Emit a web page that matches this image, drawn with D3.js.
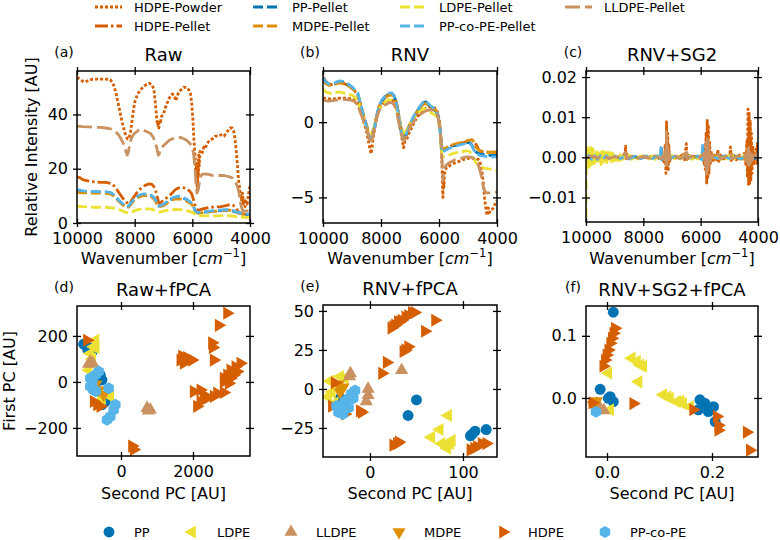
<!DOCTYPE html>
<html><head><meta charset="utf-8">
<script src="https://cdn.jsdelivr.net/npm/d3@7"></script>
<style>body{margin:0;background:#fff;} text{font-family:"DejaVu Sans",sans-serif;}</style>
</head><body><svg id="c" width="780" height="540" xmlns="http://www.w3.org/2000/svg"></svg>
<script>
// ---------------- DATA ----------------
const rawHdpePowder = [[10000,53.7],[9900,53],[9800,52.2],[9700,52],[9600,52.6],[9450,53],[9300,53],[9150,53],[9000,53],[8850,52.8],[8750,51.5],[8650,48],[8550,43],[8450,38],[8350,33.5],[8250,31],[8200,31],[8150,33],[8100,37],[8050,41],[8000,44.5],[7900,47.5],[7800,49],[7700,50.2],[7600,51],[7500,51.5],[7400,51],[7330,49],[7280,44],[7230,38],[7200,36],[7180,37.5],[7160,35],[7140,38],[7110,36.5],[7080,39],[7050,39.5],[7000,40],[6950,42],[6900,43.5],[6800,46],[6700,47.5],[6620,47],[6570,45],[6530,46.5],[6480,48],[6400,49],[6300,50],[6200,50],[6120,49],[6060,47.5],[6020,44],[5980,38],[5940,30],[5900,24],[5880,18],[5860,22],[5850,14],[5840,20],[5830,12],[5820,19],[5810,15],[5800,22],[5790,17],[5780,25],[5760,21],[5740,26],[5700,27],[5650,26],[5600,28],[5550,27.5],[5500,29],[5400,30.5],[5300,31],[5200,32],[5100,32],[5000,32.5],[4900,32],[4800,33.5],[4700,35],[4620,35],[4570,34],[4520,31],[4480,27],[4440,22],[4400,16],[4360,13],[4330,10],[4300,8.5],[4260,11],[4230,7],[4200,9],[4170,6],[4140,8],[4100,7],[4060,10],[4030,12],[4000,13.5]];
const rawHdpePellet = [[10000,17],[9900,16.7],[9800,16],[9700,15.7],[9500,15.3],[9200,15],[9000,15],[8800,14.5],[8700,13.5],[8600,12],[8500,10.5],[8400,9],[8300,7.8],[8220,7],[8150,7.5],[8100,8.5],[8000,10],[7900,11.5],[7800,12.6],[7650,13.8],[7500,14.4],[7400,14.2],[7300,13],[7250,11],[7200,9],[7160,7.2],[7100,7.5],[7000,8.3],[6900,9.2],[6800,10],[6700,11],[6600,12.2],[6500,12.8],[6400,13.2],[6300,13],[6200,12.6],[6100,11.8],[6020,10.7],[5960,8.5],[5900,6.4],[5850,5.2],[5800,4.6],[5700,5.0],[5600,5.3],[5400,5.8],[5200,5.9],[5000,6],[4800,6.5],[4700,6.8],[4600,6.6],[4500,5.8],[4450,4.8],[4400,4.2],[4300,3.5],[4200,3.3],[4000,3.3]];
const rawPp = [[10000,12],[9900,11.8],[9800,11.6],[9600,11.6],[9400,11.5],[9200,11.4],[9000,11.4],[8850,11.2],[8750,10.5],[8650,9.5],[8550,8.3],[8450,7.3],[8350,6.3],[8280,5.8],[8220,6],[8150,6.8],[8050,8.3],[7950,9.3],[7850,10],[7750,10.4],[7650,10.5],[7550,10.5],[7450,10.2],[7350,9.5],[7280,8.5],[7220,7],[7170,6.2],[7100,6.3],[7000,6.6],[6900,7.4],[6800,8.3],[6700,9],[6600,9.4],[6500,9.7],[6400,9.6],[6300,9.1],[6200,8.6],[6100,7.8],[6000,7],[5950,5.8],[5900,4.5],[5850,3.9],[5800,3.7],[5700,3.8],[5600,4],[5400,4.2],[5200,4.4],[5000,4.6],[4800,4.7],[4700,4.6],[4600,4.4],[4500,4.1],[4400,3.7],[4300,3.4],[4200,3.2],[4000,3.1]];
const rawMdpe = [[10000,11.4],[9900,11.2],[9800,11.1],[9600,11.1],[9400,11.0],[9200,11.0],[9000,10.9],[8850,10.7],[8750,10.1],[8650,9.1],[8550,8.0],[8450,7.0],[8350,6.1],[8280,5.6],[8220,5.8],[8150,6.6],[8050,8.0],[7950,9.0],[7850,9.6],[7750,10.0],[7650,10.1],[7550,10.1],[7450,9.8],[7350,9.1],[7280,8.1],[7220,6.8],[7170,6.0],[7100,6.1],[7000,6.4],[6900,7.1],[6800,7.9],[6700,8.5],[6600,8.8],[6500,8.9],[6400,8.8],[6300,8.5],[6200,8.1],[6100,7.4],[6000,6.7],[5950,5.5],[5900,4.3],[5850,3.8],[5800,3.6],[5700,3.7],[5600,3.9],[5400,4.1],[5200,4.3],[5000,4.5],[4800,4.7],[4700,4.7],[4600,4.5],[4500,4.1],[4400,3.7],[4300,3.4],[4200,3.2],[4000,3.1]];
const rawLdpe = [[10000,6.2],[9800,6],[9600,5.9],[9400,5.8],[9200,5.8],[9000,5.8],[8800,5.6],[8600,5.2],[8500,4.8],[8400,4.3],[8300,3.9],[8220,3.6],[8150,3.8],[8050,4.3],[7900,4.9],[7750,5.2],[7600,5.2],[7450,5.1],[7350,4.9],[7250,4.4],[7180,4],[7100,4.1],[7000,4.4],[6850,4.7],[6700,4.9],[6550,5],[6400,4.9],[6250,4.7],[6100,4.3],[6000,3.9],[5900,3.2],[5800,2.7],[5600,2.6],[5400,2.6],[5200,2.6],[5000,2.7],[4800,2.7],[4600,2.5],[4400,2.2],[4200,2.1],[4000,2.1]];
const rawPpcope = [[10000,12.3],[9900,12.1],[9800,11.8],[9600,11.7],[9400,11.6],[9200,11.5],[9000,11.5],[8850,11.3],[8750,10.6],[8650,9.6],[8550,8.4],[8450,7.4],[8350,6.5],[8280,6.0],[8220,6.2],[8150,7.0],[8050,8.5],[7950,9.5],[7850,10.2],[7750,10.6],[7650,10.7],[7550,10.6],[7450,10.3],[7350,9.6],[7280,8.6],[7220,7.1],[7170,6.4],[7100,6.5],[7000,6.9],[6900,7.7],[6800,8.6],[6700,9.2],[6600,9.6],[6500,9.9],[6400,9.8],[6300,9.3],[6200,8.8],[6100,8.0],[6000,7.1],[5950,5.9],[5900,4.6],[5850,4.0],[5800,3.9],[5700,4.0],[5600,4.2],[5400,4.4],[5200,4.6],[5000,4.8],[4800,4.9],[4700,4.8],[4600,4.6],[4500,4.3],[4400,3.9],[4300,3.6],[4200,3.4],[4000,3.3]];
const rawLldpe = [[10000,35.7],[9800,35.5],[9600,35.4],[9400,35.3],[9200,35.2],[9000,35],[8800,34.6],[8700,34],[8600,33],[8500,31.5],[8400,29.5],[8320,27],[8260,25],[8220,26],[8180,28.5],[8120,31],[8050,32.5],[7950,33.5],[7850,34.3],[7750,34.5],[7650,34],[7550,33.5],[7450,33],[7350,31.5],[7280,29.5],[7220,27],[7180,25],[7150,25.5],[7100,27.5],[7000,28.5],[6900,29.5],[6800,30.5],[6700,31],[6600,31.2],[6500,31.5],[6400,31.5],[6300,31],[6200,30.5],[6100,29.5],[6000,28],[5950,25],[5900,19],[5870,14],[5840,11],[5800,12],[5770,14],[5740,16],[5700,17.5],[5650,18],[5500,18],[5400,17.8],[5300,17.5],[5100,17.5],[4900,17.5],[4700,17],[4600,16.5],[4500,15],[4420,13],[4380,11],[4340,8],[4300,6],[4250,4.5],[4200,4.5],[4100,4.5],[4000,4.5]];

const rnvHdpePowder = [[10000,1.6],[9800,1.55],[9600,1.55],[9400,1.6],[9200,1.6],[9000,1.55],[8900,1.45],[8800,1.2],[8720,0.8],[8650,0.4],[8580,-0.1],[8500,-0.6],[8440,-1.2],[8380,-1.8],[8340,-2.1],[8300,-1.5],[8250,-0.8],[8180,0.0],[8100,0.7],[8000,1.1],[7900,1.3],[7800,1.35],[7700,1.45],[7600,1.45],[7520,1.3],[7450,0.8],[7380,0.0],[7300,-0.8],[7250,-1.4],[7220,-1.7],[7180,-1.3],[7120,-1.2],[7050,-0.8],[6950,-0.4],[6850,0.0],[6750,0.35],[6650,0.6],[6550,0.8],[6450,0.95],[6350,1.0],[6250,1.0],[6150,0.95],[6060,0.7],[6000,0.2],[5960,-0.6],[5930,-1.5],[5900,-2.6],[5880,-4.0],[5865,-5.0],[5850,-3.8],[5830,-4.3],[5810,-3.4],[5780,-3.2],[5740,-3.0],[5700,-3.0],[5600,-2.85],[5500,-2.75],[5400,-2.65],[5300,-2.6],[5200,-2.5],[5100,-2.45],[5000,-2.4],[4900,-2.4],[4800,-2.4],[4700,-2.4],[4600,-2.55],[4540,-3.0],[4480,-3.9],[4430,-5.0],[4380,-5.8],[4340,-6.2],[4300,-5.7],[4260,-6.0],[4200,-5.8],[4140,-5.75],[4080,-5.5],[4000,-5.2]];
const rnvHdpePellet = [[10000,3.0],[9900,2.7],[9800,2.55],[9700,2.5],[9600,2.55],[9500,2.6],[9400,2.65],[9300,2.6],[9200,2.5],[9100,2.4],[9000,2.25],[8900,2.05],[8800,1.8],[8720,1.2],[8650,0.7],[8580,0.2],[8500,-0.3],[8440,-0.9],[8390,-1.2],[8340,-1.1],[8280,-0.8],[8220,-0.3],[8150,0.4],[8070,0.95],[7980,1.35],[7880,1.6],[7780,1.75],[7680,1.85],[7600,1.85],[7520,1.65],[7440,1.1],[7370,0.3],[7300,-0.5],[7240,-1.0],[7200,-1.1],[7120,-0.85],[7050,-0.45],[6950,0.0],[6850,0.4],[6750,0.7],[6650,0.95],[6570,1.2],[6500,1.3],[6420,1.25],[6350,1.1],[6250,0.95],[6150,0.85],[6050,0.6],[5980,-0.1],[5930,-1.1],[5900,-1.8],[5850,-1.8],[5750,-1.75],[5650,-1.65],[5550,-1.55],[5450,-1.5],[5350,-1.45],[5250,-1.4],[5150,-1.35],[5050,-1.3],[4950,-1.25],[4870,-1.2],[4800,-1.25],[4720,-1.5],[4640,-1.8],[4550,-1.95],[4450,-2.0],[4300,-2.0],[4150,-2.0],[4000,-2.0]];
const rnvPp = [[10000,2.9],[9900,2.6],[9800,2.5],[9700,2.5],[9600,2.55],[9500,2.65],[9400,2.7],[9300,2.65],[9200,2.55],[9100,2.45],[9000,2.3],[8900,2.1],[8800,1.9],[8720,1.3],[8650,0.8],[8580,0.3],[8500,-0.2],[8440,-0.7],[8390,-1.0],[8340,-0.95],[8280,-0.7],[8220,-0.3],[8150,0.4],[8070,1.0],[7980,1.4],[7880,1.65],[7780,1.8],[7680,1.9],[7620,1.9],[7540,1.7],[7460,1.2],[7390,0.4],[7310,-0.5],[7250,-0.95],[7210,-1.0],[7140,-0.8],[7060,-0.4],[6960,0.0],[6860,0.4],[6760,0.7],[6660,1.0],[6560,1.25],[6450,1.35],[6380,1.2],[6300,1.05],[6200,0.9],[6120,0.75],[6040,0.5],[5980,-0.2],[5930,-1.2],[5900,-1.9],[5850,-1.85],[5750,-1.8],[5650,-1.7],[5550,-1.6],[5450,-1.55],[5350,-1.5],[5250,-1.45],[5150,-1.4],[5050,-1.35],[4950,-1.35],[4870,-1.5],[4800,-1.8],[4720,-2.0],[4600,-2.1],[4450,-2.15],[4300,-2.2],[4150,-2.2],[4000,-2.2]];
const rnvMdpe = [[10000,2.8],[9900,2.55],[9800,2.45],[9700,2.45],[9600,2.5],[9500,2.6],[9400,2.6],[9300,2.55],[9200,2.5],[9100,2.4],[9000,2.25],[8900,2.05],[8800,1.85],[8720,1.3],[8650,0.8],[8580,0.3],[8500,-0.15],[8440,-0.6],[8390,-0.9],[8340,-0.85],[8280,-0.6],[8220,-0.2],[8150,0.45],[8070,1.0],[7980,1.4],[7880,1.6],[7780,1.75],[7680,1.8],[7620,1.8],[7540,1.6],[7460,1.15],[7390,0.4],[7310,-0.45],[7250,-0.85],[7210,-0.9],[7140,-0.7],[7060,-0.35],[6960,0.05],[6860,0.4],[6760,0.7],[6660,0.95],[6560,1.15],[6450,1.25],[6380,1.15],[6300,1.0],[6200,0.9],[6120,0.8],[6040,0.55],[5980,-0.1],[5930,-1.1],[5900,-1.8],[5850,-1.75],[5750,-1.7],[5650,-1.6],[5550,-1.5],[5450,-1.45],[5350,-1.4],[5250,-1.35],[5150,-1.3],[5050,-1.25],[4950,-1.2],[4870,-1.15],[4800,-1.3],[4720,-1.7],[4600,-1.9],[4450,-1.95],[4300,-2.0],[4150,-2.0],[4000,-2.0]];
const rnvLdpe = [[10000,2.2],[9900,2.0],[9800,1.95],[9700,1.9],[9600,1.95],[9500,2.0],[9400,2.0],[9300,1.95],[9200,1.9],[9100,1.85],[9000,1.8],[8900,1.65],[8800,1.4],[8720,0.95],[8650,0.5],[8570,0.05],[8500,-0.4],[8430,-0.75],[8380,-0.9],[8330,-0.85],[8280,-0.6],[8220,-0.2],[8150,0.35],[8070,0.8],[7980,1.1],[7880,1.3],[7780,1.45],[7680,1.5],[7600,1.45],[7520,1.25],[7440,0.8],[7370,0.15],[7300,-0.4],[7240,-0.65],[7190,-0.7],[7120,-0.55],[7050,-0.25],[6950,0.05],[6850,0.35],[6750,0.55],[6650,0.75],[6570,0.85],[6500,0.9],[6420,0.8],[6350,0.7],[6250,0.6],[6150,0.5],[6050,0.3],[5980,-0.4],[5930,-1.4],[5900,-2.3],[5850,-2.3],[5750,-2.25],[5650,-2.2],[5550,-2.1],[5450,-2.05],[5350,-2.0],[5250,-1.95],[5150,-1.95],[5050,-1.9],[4950,-1.95],[4870,-2.1],[4800,-2.4],[4720,-2.7],[4600,-2.9],[4450,-3.05],[4300,-3.1],[4150,-3.15],[4000,-3.2]];
const rnvPpcope = [[10000,2.95],[9900,2.65],[9800,2.55],[9700,2.55],[9600,2.6],[9500,2.7],[9400,2.75],[9300,2.7],[9200,2.6],[9100,2.5],[9000,2.35],[8900,2.15],[8800,1.95],[8720,1.3],[8650,0.75],[8580,0.2],[8500,-0.3],[8440,-0.8],[8390,-1.1],[8340,-1.0],[8280,-0.75],[8220,-0.3],[8150,0.4],[8070,1.05],[7980,1.45],[7880,1.7],[7780,1.85],[7680,1.95],[7620,1.95],[7540,1.75],[7460,1.2],[7390,0.35],[7310,-0.6],[7250,-1.05],[7210,-1.1],[7140,-0.85],[7060,-0.45],[6960,0.0],[6860,0.45],[6760,0.75],[6660,1.05],[6560,1.3],[6450,1.4],[6380,1.25],[6300,1.1],[6200,0.95],[6120,0.8],[6040,0.5],[5980,-0.25],[5930,-1.3],[5900,-2.0],[5850,-1.95],[5750,-1.85],[5650,-1.75],[5550,-1.65],[5450,-1.6],[5350,-1.55],[5250,-1.5],[5150,-1.45],[5050,-1.4],[4950,-1.4],[4870,-1.55],[4800,-1.85],[4720,-2.1],[4600,-2.2],[4450,-2.25],[4300,-2.3],[4150,-2.3],[4000,-2.3]];
const rnvLldpe = [[10000,1.45],[9800,1.4],[9600,1.45],[9400,1.5],[9200,1.5],[9000,1.45],[8900,1.35],[8800,1.1],[8720,0.7],[8650,0.35],[8580,0.0],[8500,-0.4],[8430,-0.9],[8370,-1.4],[8330,-1.45],[8290,-1.0],[8230,-0.4],[8160,0.2],[8080,0.7],[8000,0.95],[7900,1.1],[7800,1.2],[7700,1.3],[7620,1.3],[7530,1.1],[7450,0.6],[7380,-0.1],[7300,-0.8],[7240,-1.2],[7200,-1.25],[7140,-1.0],[7060,-0.6],[6960,-0.2],[6850,0.1],[6750,0.35],[6650,0.5],[6550,0.65],[6450,0.75],[6350,0.8],[6250,0.8],[6150,0.75],[6060,0.5],[6000,0.0],[5950,-0.9],[5910,-2.0],[5880,-3.2],[5865,-3.9],[5840,-3.3],[5800,-3.0],[5750,-2.85],[5650,-2.7],[5550,-2.6],[5450,-2.5],[5350,-2.45],[5250,-2.4],[5150,-2.35],[5050,-2.3],[4950,-2.3],[4850,-2.35],[4750,-2.5],[4650,-2.8],[4560,-3.4],[4480,-4.2],[4420,-4.6],[4350,-4.7],[4250,-4.7],[4150,-4.65],[4000,-4.65]];

const sgHdpePowder = [[10000,0],[9900,0.0004],[9850,-0.0003],[9800,0.0003],[9700,-0.0002],[9600,0.0003],[9500,-0.0003],[9400,0.0002],[9300,-0.0002],[9200,0.0003],[9100,-0.0002],[9000,0.0002],[8900,-0.0003],[8800,0.0003],[8700,-0.0002],[8640,0.0005],[8620,0.0028],[8590,-0.0004],[8550,0.0006],[8450,-0.0003],[8350,0.0003],[8250,-0.0004],[8150,0.0003],[8050,-0.0002],[7950,0.0002],[7850,-0.0002],[7750,0.0002],[7650,-0.0002],[7550,0.0002],[7450,-0.0003],[7350,0.0005],[7270,-0.0015],[7240,0.0030],[7210,-0.0040],[7190,0.0088],[7170,-0.0030],[7150,0.0060],[7130,-0.0035],[7110,0.0030],[7080,-0.0010],[7040,0.0008],[6950,-0.0004],[6850,0.0003],[6750,-0.0003],[6650,0.0004],[6560,-0.0006],[6500,0.0034],[6470,-0.0005],[6400,0.0005],[6300,-0.0003],[6200,0.0003],[6100,-0.0004],[6000,0.0005],[5950,-0.0008],[5880,0.0015],[5840,-0.0030],[5810,0.0060],[5790,-0.0064],[5770,0.0092],[5750,-0.0050],[5730,0.0080],[5710,-0.0040],[5690,0.0040],[5660,-0.0015],[5620,0.0012],[5560,-0.0008],[5500,0.0010],[5450,-0.0006],[5400,0.0018],[5370,-0.0010],[5300,0.0006],[5200,-0.0005],[5100,0.0006],[5000,-0.0006],[4960,0.0026],[4930,-0.0008],[4850,0.0005],[4750,-0.0006],[4650,0.0006],[4550,-0.0008],[4480,0.0010],[4420,-0.0020],[4390,0.0040],[4370,-0.0050],[4350,0.0120],[4330,-0.0070],[4310,0.0110],[4290,-0.0065],[4270,0.0090],[4250,-0.0060],[4230,0.0060],[4210,-0.0040],[4180,0.0030],[4150,-0.0020],[4110,0.0015],[4070,0.0020],[4040,-0.0015],[4020,0.0035],[4000,0.0]];
const sgHdpePellet = [[10000,0],[9800,0.0003],[9600,-0.0003],[9400,0.0003],[9200,-0.0003],[9000,0.0003],[8800,-0.0003],[8620,0.0012],[8580,-0.0003],[8400,0.0003],[8200,-0.0003],[8000,0.0003],[7800,-0.0003],[7600,0.0003],[7400,-0.0003],[7250,-0.0010],[7220,0.0015],[7190,-0.0020],[7170,0.0040],[7140,-0.0012],[7050,0.0005],[6900,-0.0003],[6700,0.0003],[6500,0.0012],[6470,-0.0004],[6300,0.0003],[6100,-0.0003],[5950,0.0005],[5850,-0.0020],[5810,0.0035],[5790,-0.0035],[5770,0.0050],[5740,-0.0025],[5700,0.0015],[5600,-0.0005],[5400,0.0008],[5200,-0.0004],[5000,0.0004],[4960,0.0012],[4800,-0.0004],[4600,0.0004],[4420,-0.0012],[4380,0.0030],[4350,-0.0045],[4320,0.0060],[4290,-0.0040],[4260,0.0045],[4230,-0.0030],[4200,0.0020],[4150,-0.0010],[4050,0.0012],[4000,0]];
const sgPp = [[10000,0.0003],[9800,-0.0003],[9600,0.0002],[9400,-0.0003],[9200,0.0003],[9000,-0.0002],[8800,0.0003],[8700,-0.0004],[8600,0.0005],[8500,-0.0003],[8300,0.0002],[8100,-0.0002],[7900,0.0002],[7700,-0.0002],[7500,0.0003],[7400,-0.0003],[7370,0.0022],[7340,-0.0005],[7250,0.0006],[7200,-0.0008],[7150,0.0010],[7100,-0.0005],[6900,0.0003],[6700,-0.0003],[6500,0.0004],[6300,-0.0003],[6100,0.0003],[5950,-0.0005],[5920,0.0028],[5890,-0.0010],[5800,0.0008],[5750,-0.0008],[5650,0.0004],[5400,-0.0003],[5200,0.0003],[5000,-0.0003],[4800,0.0003],[4600,-0.0004],[4400,0.0005],[4350,-0.0006],[4300,0.0006],[4200,-0.0004],[4000,0]];
const sgMdpe = [[10000,0.0002],[9800,-0.0004],[9600,0.0003],[9400,-0.0003],[9200,0.0003],[9000,-0.0003],[8800,0.0003],[8600,-0.0003],[8400,0.0003],[8200,-0.0003],[8000,0.0003],[7800,-0.0003],[7600,0.0003],[7400,-0.0004],[7250,0.0008],[7200,-0.0010],[7170,0.0015],[7100,-0.0005],[6900,0.0003],[6700,-0.0003],[6500,0.0006],[6300,-0.0003],[6100,0.0003],[5950,-0.0005],[5850,0.0010],[5790,-0.0015],[5770,0.0020],[5700,-0.0008],[5500,0.0004],[5300,-0.0003],[5100,0.0003],[4900,-0.0003],[4700,0.0003],[4500,-0.0004],[4400,0.0008],[4350,-0.0010],[4300,0.0010],[4200,-0.0005],[4000,0]];
const sgLdpe = [[10000,-0.0150],[9990,0.0010],[9970,-0.0020],[9950,0.0024],[9930,-0.0022],[9910,0.0020],[9890,-0.0025],[9870,0.0018],[9850,-0.0020],[9830,0.0025],[9810,-0.0018],[9790,0.0022],[9770,-0.0015],[9750,0.0020],[9720,-0.0022],[9690,0.0015],[9660,-0.0018],[9630,0.0020],[9600,-0.0015],[9570,0.0018],[9540,-0.0016],[9510,0.0015],[9480,-0.0018],[9450,0.0014],[9420,-0.0012],[9390,0.0015],[9350,-0.0014],[9310,0.0012],[9270,-0.0013],[9230,0.0012],[9190,-0.0010],[9150,0.0012],[9110,-0.0011],[9070,0.0010],[9030,-0.0009],[8990,0.0010],[8950,-0.0008],[8900,0.0008],[8850,-0.0008],[8800,0.0007],[8750,-0.0006],[8700,0.0006],[8600,-0.0005],[8500,0.0005],[8400,-0.0005],[8300,0.0004],[8200,-0.0004],[8100,0.0004],[8000,-0.0004],[7900,0.0004],[7800,-0.0004],[7700,0.0004],[7600,-0.0005],[7500,0.0005],[7400,-0.0006],[7300,0.0006],[7200,-0.0010],[7170,0.0012],[7140,-0.0008],[7000,0.0005],[6900,-0.0004],[6800,0.0004],[6700,-0.0004],[6600,0.0004],[6500,-0.0004],[6400,0.0004],[6300,-0.0005],[6200,0.0004],[6100,-0.0004],[6000,0.0005],[5950,-0.0006],[5900,0.0008],[5850,-0.0012],[5800,0.0015],[5770,-0.0018],[5740,0.0012],[5700,-0.0008],[5600,0.0005],[5500,-0.0005],[5400,0.0004],[5300,-0.0005],[5200,0.0004],[5100,-0.0004],[5000,0.0005],[4950,-0.0010],[4900,0.0006],[4800,-0.0004],[4700,0.0004],[4600,-0.0005],[4500,0.0005],[4400,-0.0006],[4300,0.0006],[4200,-0.0005],[4100,0.0004],[4000,0]];
const sgPpcope = [[10000,-0.0004],[9900,0.0005],[9800,-0.0005],[9700,0.0004],[9600,-0.0005],[9500,0.0004],[9400,-0.0004],[9300,0.0004],[9200,-0.0003],[9000,0.0003],[8800,-0.0003],[8600,0.0004],[8500,-0.0004],[8300,0.0003],[8100,-0.0003],[7900,0.0003],[7700,-0.0003],[7500,0.0003],[7420,-0.0004],[7390,0.0024],[7360,-0.0006],[7250,0.0005],[7200,-0.0007],[7150,0.0008],[7100,-0.0004],[6900,0.0003],[6700,-0.0003],[6500,0.0004],[6300,-0.0003],[6100,0.0003],[5960,-0.0006],[5930,0.0030],[5900,-0.0010],[5800,0.0007],[5750,-0.0007],[5650,0.0004],[5400,-0.0003],[5200,0.0003],[5000,-0.0003],[4800,0.0003],[4600,-0.0004],[4400,0.0005],[4350,-0.0005],[4300,0.0005],[4200,-0.0004],[4000,0]];
const sgLldpe = [[10000,0],[9800,0.0003],[9600,-0.0002],[9400,0.0003],[9200,-0.0003],[9000,0.0002],[8800,-0.0002],[8620,0.0012],[8580,-0.0003],[8400,0.0002],[8200,-0.0002],[8000,0.0002],[7800,-0.0002],[7600,0.0002],[7400,-0.0003],[7300,0.0005],[7250,-0.0012],[7220,0.0020],[7200,-0.0018],[7190,0.0068],[7170,-0.0020],[7150,0.0035],[7130,-0.0015],[7100,0.0012],[7050,-0.0005],[6900,0.0003],[6700,-0.0003],[6560,0.0004],[6500,0.0020],[6470,-0.0004],[6300,0.0003],[6100,-0.0003],[5950,0.0005],[5880,0.0010],[5840,-0.0020],[5810,0.0035],[5790,-0.0042],[5770,0.0045],[5750,-0.0035],[5730,0.0040],[5710,-0.0025],[5690,0.0020],[5660,-0.0008],[5600,0.0006],[5500,-0.0004],[5400,0.0008],[5300,-0.0004],[5100,0.0004],[4960,0.0012],[4900,-0.0004],[4700,0.0004],[4500,-0.0005],[4420,0.0010],[4390,-0.0015],[4370,0.0020],[4350,-0.0018],[4330,0.0025],[4310,-0.0020],[4290,0.0018],[4270,-0.0015],[4250,0.0012],[4200,-0.0008],[4150,0.0006],[4100,-0.0004],[4050,0.0008],[4000,0]];

// fPCA scores: [second PC, first PC]
const rawPcaPP = [[-1037,164],[-926,141],[-806,131],[-900,150],[-574,30],[-528,9],[-667,1],[-482,-63],[-435,-85],[-528,-99],[-480,-90]];
const rawPcaLDPE = [[-713,181],[-759,153],[-852,124],[-898,52],[-759,-20],[-528,-78],[-296,-63],[-389,-35],[-620,-50],[-700,150],[-800,100]];
const rawPcaLLDPE = [[-898,78],[-852,88],[-780,80],[722,-114],[815,-121],[760,-125]];
const rawPcaMDPE = [[-620,-35],[-482,-56],[-700,-10]];
const rawPcaHDPE = [[2945,299],[2713,246],[2528,170],[2547,150],[2574,95],[1695,112],[1833,106],[1972,95],[1741,81],[1648,95],[1780,92],[3315,81],[3176,66],[3037,52],[2945,30],[2852,16],[3037,16],[3130,30],[3222,45],[2991,-6],[2852,1],[3100,40],[2019,-42],[2204,-35],[2296,-56],[2389,-71],[2204,-85],[2111,-106],[2667,-49],[2852,-46],[2574,-63],[306,-279],[352,-294],[-945,181],[-759,-85],[-667,-99],[-574,-106]];
const rawPcaPPcoPE = [[-713,30],[-852,16],[-852,-20],[-759,-35],[-343,-27],[-157,-99],[-204,-121],[-296,-150],[-389,-164],[-620,45],[-800,0],[-700,-40]];

const rnvPcaPP = [[41,-17],[50,-7],[108,-30],[110,-29],[113,-27],[125,-26],[-32,-6],[-30,-10]];
const rnvPcaLDPE = [[84,-17],[75,-26],[66,-31],[81,-36],[86,-35],[88,-33],[77,-35],[83,-38],[-43,5],[-41,-2],[-38,-9],[-32,8],[-27,7],[-45,-5]];
const rnvPcaLLDPE = [[-21,10],[-22,8],[34,12],[-2,0],[-2,-4],[-4,-8]];
const rnvPcaMDPE = [[-34,3],[-29,1],[-32,-2]];
const rnvPcaHDPE = [[23,39],[25,40],[27,41],[30,43],[32,43],[34,44],[38,46],[41,47],[45,49],[48,49],[70,44],[59,37],[38,25],[41,27],[36,24],[18,17],[13,10],[-9,-15],[29,-35],[25,-36],[31,-34],[108,-39],[115,-37],[120,-35],[125,-35],[112,-38],[-38,4],[-41,-11],[-27,-16],[-11,-14]];
const rnvPcaPPcoPE = [[-16,-1],[-20,-3],[-23,-6],[-27,-8],[-30,-11],[-34,-15],[-29,-16],[-23,-12],[-18,-6],[-36,-11]];

const sgPcaPP = [[0.012,0.138],[-0.013,0.014],[0.0025,-0.0005],[0.012,-0.006],[0.006,0.002],[0.177,-0.003],[0.187,-0.009],[0.174,-0.019],[0.203,-0.014],[0.193,-0.022],[0.206,-0.038]];
const sgPcaLDPE = [[0.047,0.064],[0.057,0.059],[0.063,0.053],[0.069,0.051],[0.0025,0.040],[0.06,0.026],[0.107,0.005],[0.12,-0.0005],[0.133,-0.006],[0.145,-0.009],[0.158,-0.014],[0.006,-0.019],[0.115,0.002],[0.14,-0.005]];
const sgPcaLLDPE = [[-0.02,-0.009],[-0.013,-0.017],[-0.006,-0.02],[-0.016,-0.013]];
const sgPcaMDPE = [[-0.026,-0.011],[-0.02,-0.005]];
const sgPcaHDPE = [[0.015,0.112],[0.012,0.104],[0.009,0.096],[0.006,0.088],[0.0025,0.077],[-0.001,0.069],[-0.004,0.061],[-0.007,0.051],[0.05,-0.009],[0.209,-0.03],[0.212,-0.044],[0.212,-0.052],[0.266,-0.055],[0.272,-0.084],[0.164,-0.019],[-0.028,-0.008]];
const sgPcaPPcoPE = [[-0.021,-0.022]];

const lineNames = ["HDPE-Powder","HDPE-Pellet","PP-Pellet","MDPE-Pellet","LDPE-Pellet","PP-co-PE-Pellet","LLDPE-Pellet"];
const classNames = ["PP","LDPE","LLDPE","MDPE","HDPE","PP-co-PE"];
const panelTitles = ["Raw","RNV","RNV+SG2","Raw+fPCA","RNV+fPCA","RNV+SG2+fPCA"];
const panelLetters = ["(a)","(b)","(c)","(d)","(e)","(f)"];

// ---------------- STYLE ----------------
const col = {PP:"#0173b2", LDPE:"#ece133", LLDPE:"#ca9161", MDPE:"#de8f05", HDPE:"#d55e00", PPcoPE:"#56b4e9"};
const lineStyles = [
  {color:col.HDPE, dash:"3,2"},
  {color:col.HDPE, dash:"13,3,2.5,3"},
  {color:col.PP, dash:"10,4"},
  {color:col.MDPE, dash:"10,4"},
  {color:col.LDPE, dash:"10,4"},
  {color:col.PPcoPE, dash:"10,4"},
  {color:col.LLDPE, dash:"15,5"}
];
const rawSets = [rawHdpePowder, rawHdpePellet, rawPp, rawMdpe, rawLdpe, rawPpcope, rawLldpe];
const rnvSets = [rnvHdpePowder, rnvHdpePellet, rnvPp, rnvMdpe, rnvLdpe, rnvPpcope, rnvLldpe];
const sgSets = [sgHdpePowder, sgHdpePellet, sgPp, sgMdpe, sgLdpe, sgPpcope, sgLldpe];
const classColors = [col.PP, col.LDPE, col.LLDPE, col.MDPE, col.HDPE, col.PPcoPE];
const classShapes = ["circle","left","up","down","right","hex"];

const svg = d3.select("#c");
const FONT = "DejaVu Sans, sans-serif";
const TICKFS = 16;

const panels = [
  {x0:77,x1:250,y0:71,y1:223, xd:[10000,4000], yd:[0,56], xt:[10000,8000,6000,4000], yt:[0,20,40], fx:"d", fy:"d", sets:rawSets, ylab:"Relative Intensity [AU]", ylx:37},
  {x0:323,x1:497,y0:71,y1:223, xd:[10000,4000], yd:[-6.7,3.4], xt:[10000,8000,6000,4000], yt:[-5,0], fx:"d", fy:"d", sets:rnvSets},
  {x0:586,x1:758,y0:71,y1:222, xd:[10000,4000], yd:[-0.0161,0.0215], xt:[10000,8000,6000,4000], yt:[-0.01,0,0.01,0.02], fx:"d", fy:".2f", sets:sgSets},
  {x0:77,x1:250,y0:306,y1:456, xd:[-1222,3583], yd:[-322,330], xt:[0,2000], yt:[-200,0,200], fx:"d", fy:"d", pts:[rawPcaPP,rawPcaLDPE,rawPcaLLDPE,rawPcaMDPE,rawPcaHDPE,rawPcaPPcoPE], ylab:"First PC [AU]", ylx:15},
  {x0:323,x1:497,y0:305,y1:457, xd:[-50.5,136.6], yd:[-43.6,53.8], xt:[0,100], yt:[-25,0,25,50], fx:"d", fy:"d", pts:[rnvPcaPP,rnvPcaLDPE,rnvPcaLLDPE,rnvPcaMDPE,rnvPcaHDPE,rnvPcaPPcoPE]},
  {x0:586,x1:758,y0:306,y1:457, xd:[-0.04,0.2876], yd:[-0.095,0.148], xt:[0,0.2], yt:[0,0.1], fx:".1f", fy:".1f", pts:[sgPcaPP,sgPcaLDPE,sgPcaLLDPE,sgPcaMDPE,sgPcaHDPE,sgPcaPPcoPE]}
];

function markerPath(shape, size) {
  if (shape === "circle") return d3.symbol(d3.symbolCircle, size*1.25)();
  if (shape === "hex") {
    const r = Math.sqrt(size*1.25/2.6);
    const pts = d3.range(6).map(i => { const a = (-90 + 60*i) * Math.PI/180; return [r*Math.cos(a), r*Math.sin(a)]; });
    return "M" + pts.map(p => p.join(",")).join("L") + "Z";
  }
  return d3.symbol(d3.symbolTriangle, size)();
}
const rot = {up:0, down:180, left:-90, right:90, circle:0, hex:0};

function drawMarker(g, shape, color, x, y, size) {
  g.append("path").attr("d", markerPath(shape, size))
    .attr("transform", `translate(${x},${y}) rotate(${rot[shape]})`)
    .attr("fill", color);
}

panels.forEach((p, i) => {
  const g = svg.append("g");
  const x = d3.scaleLinear().domain(p.xd).range([p.x0, p.x1]);
  const y = d3.scaleLinear().domain(p.yd).range([p.y1, p.y0]);
  const cid = "clip" + i;
  svg.append("defs").append("clipPath").attr("id", cid).append("rect")
    .attr("x", p.x0).attr("y", p.y0).attr("width", p.x1 - p.x0).attr("height", p.y1 - p.y0);
  const plot = g.append("g").attr("clip-path", `url(#${cid})`);

  if (p.sets) {
    const line = d3.line().x(d => x(d[0])).y(d => y(d[1]));
    p.sets.forEach((s, k) => {
      plot.append("path").attr("d", line(s)).attr("fill", "none")
        .attr("stroke", lineStyles[k].color).attr("stroke-width", 2.8)
        .attr("stroke-dasharray", lineStyles[k].dash).attr("stroke-linejoin", "round");
    });
  } else {
    p.pts.forEach((s, k) => {
      s.forEach(d => drawMarker(plot, classShapes[k], classColors[k], x(d[0]), y(d[1]), 75));
    });
  }

  const fx = d3.format(p.fx), fy = d3.format(p.fy);
  const style = sel => { sel.select(".domain").remove(); sel.attr("font-size", TICKFS).attr("font-family", FONT);
    sel.selectAll("line").attr("stroke", "#000").attr("stroke-width", 1.3); sel.selectAll("text").attr("fill", "#000"); };
  // bottom
  g.append("g").attr("transform", `translate(0,${p.y1})`).call(d3.axisBottom(x).tickValues(p.xt).tickSize(4).tickPadding(5.5).tickFormat(fx)).call(style);
  g.append("g").attr("transform", `translate(0,${p.y1})`).call(d3.axisBottom(x).tickValues(p.xt).tickSize(-4).tickFormat("")).call(style);
  // top
  g.append("g").attr("transform", `translate(0,${p.y0})`).call(d3.axisTop(x).tickValues(p.xt).tickSize(4).tickFormat("")).call(style);
  g.append("g").attr("transform", `translate(0,${p.y0})`).call(d3.axisTop(x).tickValues(p.xt).tickSize(-4).tickFormat("")).call(style);
  // left
  g.append("g").attr("transform", `translate(${p.x0},0)`).call(d3.axisLeft(y).tickValues(p.yt).tickSize(4).tickPadding(5).tickFormat(fy)).call(style);
  g.append("g").attr("transform", `translate(${p.x0},0)`).call(d3.axisLeft(y).tickValues(p.yt).tickSize(-4).tickFormat("")).call(style);
  // right
  g.append("g").attr("transform", `translate(${p.x1},0)`).call(d3.axisRight(y).tickValues(p.yt).tickSize(4).tickFormat("")).call(style);
  g.append("g").attr("transform", `translate(${p.x1},0)`).call(d3.axisRight(y).tickValues(p.yt).tickSize(-4).tickFormat("")).call(style);

  g.append("rect").attr("x", p.x0).attr("y", p.y0).attr("width", p.x1 - p.x0).attr("height", p.y1 - p.y0)
    .attr("fill", "none").attr("stroke", "#000").attr("stroke-width", 1.5);

  const cx = (p.x0 + p.x1) / 2;
  g.append("text").attr("x", cx).attr("y", p.y0 - 10).attr("text-anchor", "middle")
    .attr("font-size", 18).attr("font-family", FONT).text(panelTitles[i]);
  g.append("text").attr("x", p.x0 - 13).attr("y", p.y0 - 14).attr("text-anchor", "middle")
    .attr("font-size", 14).attr("font-family", FONT).text(panelLetters[i]);

  if (i < 3) {
    const t = g.append("text").attr("x", cx).attr("y", 264).attr("text-anchor", "middle")
      .attr("font-size", 16).attr("font-family", FONT);
    t.append("tspan").text("Wavenumber [");
    t.append("tspan").attr("font-style", "italic").text("cm");
    t.append("tspan").attr("font-size", 11.5).attr("dy", -7).text("−1");
    t.append("tspan").attr("dy", 7).text("]");
  } else {
    g.append("text").attr("x", cx).attr("y", 499).attr("text-anchor", "middle")
      .attr("font-size", 16).attr("font-family", FONT).text("Second PC [AU]");
  }
  if (p.ylab) {
    const cy = (p.y0 + p.y1) / 2;
    g.append("text").attr("transform", `translate(${p.ylx},${cy}) rotate(-90)`).attr("text-anchor", "middle")
      .attr("font-size", 16).attr("font-family", FONT).text(p.ylab);
  }
});

// top legend (4 columns, 2 rows, column-major)
const legCols = [95, 253, 400, 565];
const legRows = [7, 26];
lineNames.forEach((n, k) => {
  const c = Math.floor(k / 2), r = k % 2;
  const lx = legCols[c], ly = legRows[r];
  svg.append("line").attr("x1", lx).attr("x2", lx + 27).attr("y1", ly).attr("y2", ly)
    .attr("stroke", lineStyles[k].color).attr("stroke-width", 2.8).attr("stroke-dasharray", lineStyles[k].dash);
  svg.append("text").attr("x", lx + 39).attr("y", ly + 5).attr("font-size", 13).attr("font-family", FONT).text(n);
});

// bottom legend
const markX = [109, 192, 291, 399, 503, 605];
classNames.forEach((n, k) => {
  drawMarker(svg, classShapes[k], classColors[k], markX[k], 532, 75);
  svg.append("text").attr("x", markX[k] + 25).attr("y", 536.5).attr("font-size", 13).attr("font-family", FONT).text(n);
});
</script></body></html>
